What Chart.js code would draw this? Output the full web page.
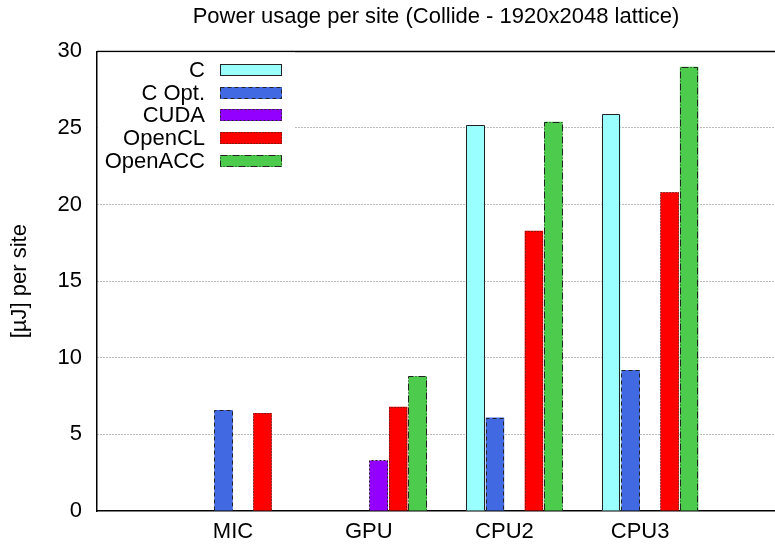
<!DOCTYPE html>
<html>
<head>
<meta charset="utf-8">
<script src="https://cdn.jsdelivr.net/npm/chart.js@4/dist/chart.umd.min.js"></script>
<style>
  html, body { margin: 0; padding: 0; background: #fff; }
</style>
</head>
<body>
<canvas id="chart" width="775" height="544"></canvas>
<script>
// Platforms on the x axis and the energy per lattice site for each implementation
const categories = ['MIC', 'GPU', 'CPU2', 'CPU3'];
const seriesNames = ['C', 'C Opt.', 'CUDA', 'OpenCL', 'OpenACC'];
const cValues = [null, null, 25.2, 25.9];
const cOptValues = [6.6, null, 6.1, 9.2];
const cudaValues = [null, 3.3, null, null];
const openclValues = [6.4, 6.8, 18.3, 20.8];
const openaccValues = [null, 8.8, 25.4, 29.0];
const yTickValues = [0, 5, 10, 15, 20, 25, 30];

const FONT = "'Liberation Sans', Arial, Helvetica, sans-serif";
Chart.defaults.font.family = FONT;
Chart.defaults.font.size = 22;
Chart.defaults.color = '#000';

const seriesValues = [cValues, cOptValues, cudaValues, openclValues, openaccValues];
const fills = ['#99ffff', '#4169e1', '#9400ff', '#ff0000', '#4dcb4d'];
const dashes = [[], [4, 3], [2, 2], [1, 2], [7, 2, 1, 2]];

const datasets = seriesNames.map((name, s) => ({
  label: name,
  data: seriesValues[s].map((v, i) => ({ x: i, y: v })),
  backgroundColor: fills[s],
  borderWidth: 0,
  outlineDash: dashes[s],
  categoryPercentage: 0.718,
  barPercentage: 0.95
}));

// Outlines with per-series dash patterns, a top frame line, and the key box
const decorations = {
  id: 'decorations',
  afterDatasetsDraw(chart) {
    const { ctx, chartArea } = chart;
    ctx.save();
    // bar outlines
    chart.data.datasets.forEach((ds, d) => {
      const meta = chart.getDatasetMeta(d);
      meta.data.forEach((el, i) => {
        if (ds.data[i].y === null) return;
        const p = el.getProps(['x', 'y', 'base', 'width'], true);
        const l = Math.round(p.x - p.width / 2) + 0.5;
        const r = Math.round(p.x + p.width / 2) - 0.5;
        const t = Math.round(p.y) + 0.5;
        const b = Math.round(p.base) - 0.5;
        ctx.setLineDash(ds.outlineDash);
        ctx.lineWidth = 1;
        ctx.strokeStyle = '#222';
        ctx.beginPath();
        ctx.moveTo(l, b); ctx.lineTo(l, t); ctx.lineTo(r, t); ctx.lineTo(r, b);
        ctx.stroke();
      });
    });
    ctx.setLineDash([]);
    // top frame
    ctx.strokeStyle = '#000';
    ctx.lineWidth = 1.5;
    ctx.beginPath();
    ctx.moveTo(chartArea.left, chartArea.top);
    ctx.lineTo(chartArea.right, chartArea.top);
    ctx.stroke();
    // key
    const left = chartArea.left;
    ctx.fillStyle = '#fff';
    ctx.fillRect(left + 1, chartArea.top + 1, 197, 120);
    ctx.font = '22px ' + FONT;
    ctx.textAlign = 'right';
    ctx.textBaseline = 'middle';
    chart.data.datasets.forEach((ds, i) => {
      const cy = chartArea.top + 18.5 + i * 22.7;
      ctx.fillStyle = '#000';
      ctx.fillText(ds.label, left + 108, cy + 1);
      const bx = left + 123, by = Math.round(cy - 6);
      ctx.fillStyle = ds.backgroundColor;
      ctx.fillRect(bx, by, 62, 12);
      ctx.setLineDash(ds.outlineDash);
      ctx.lineWidth = 1;
      ctx.strokeStyle = '#222';
      ctx.strokeRect(bx + 0.5, by + 0.5, 61, 11);
    });
    ctx.restore();
  }
};

new Chart(document.getElementById('chart'), {
  type: 'bar',
  data: { datasets },
  options: {
    responsive: false,
    animation: false,
    layout: { padding: 0 },
    plugins: {
      legend: { display: false },
      tooltip: { enabled: false },
      title: {
        display: true,
        fullSize: false,
        text: 'Power usage per site (Collide - 1920x2048 lattice)',
        font: { size: 22, weight: 'normal' },
        color: '#000',
        padding: { top: 4, bottom: 21 }
      }
    },
    scales: {
      x: {
        type: 'linear',
        offset: false,
        min: -1.076,
        max: 3.92,
        afterBuildTicks(scale) { scale.ticks = categories.map((_, i) => ({ value: i })); },
        afterFit(scale) { scale.height = 33; },
        grid: { display: false, drawTicks: false },
        border: { display: true, color: '#000', width: 1.5 },
        ticks: {
          padding: 8,
          labelOffset: -10,
          autoSkip: false,
          maxRotation: 0,
          callback: (v) => categories[v]
        }
      },
      y: {
        min: 0,
        max: 30,
        afterBuildTicks(scale) { scale.ticks = yTickValues.map(v => ({ value: v })); },
        afterFit(scale) { scale.width = 97; },
        grid: {
          drawTicks: false,
          color: (c) => (c.tick && (c.tick.value === 0 || c.tick.value === 30)) ? 'rgba(0,0,0,0)' : '#777',
          lineWidth: 1
        },
        border: { display: true, color: '#000', width: 1.5, dash: [1, 2] },
        ticks: { padding: 15 },
        title: {
          display: true,
          text: '[µJ] per site',
          font: { size: 22 },
          padding: { top: 7, bottom: 0 }
        }
      }
    }
  },
  plugins: [decorations]
});
</script>
</body>
</html>
